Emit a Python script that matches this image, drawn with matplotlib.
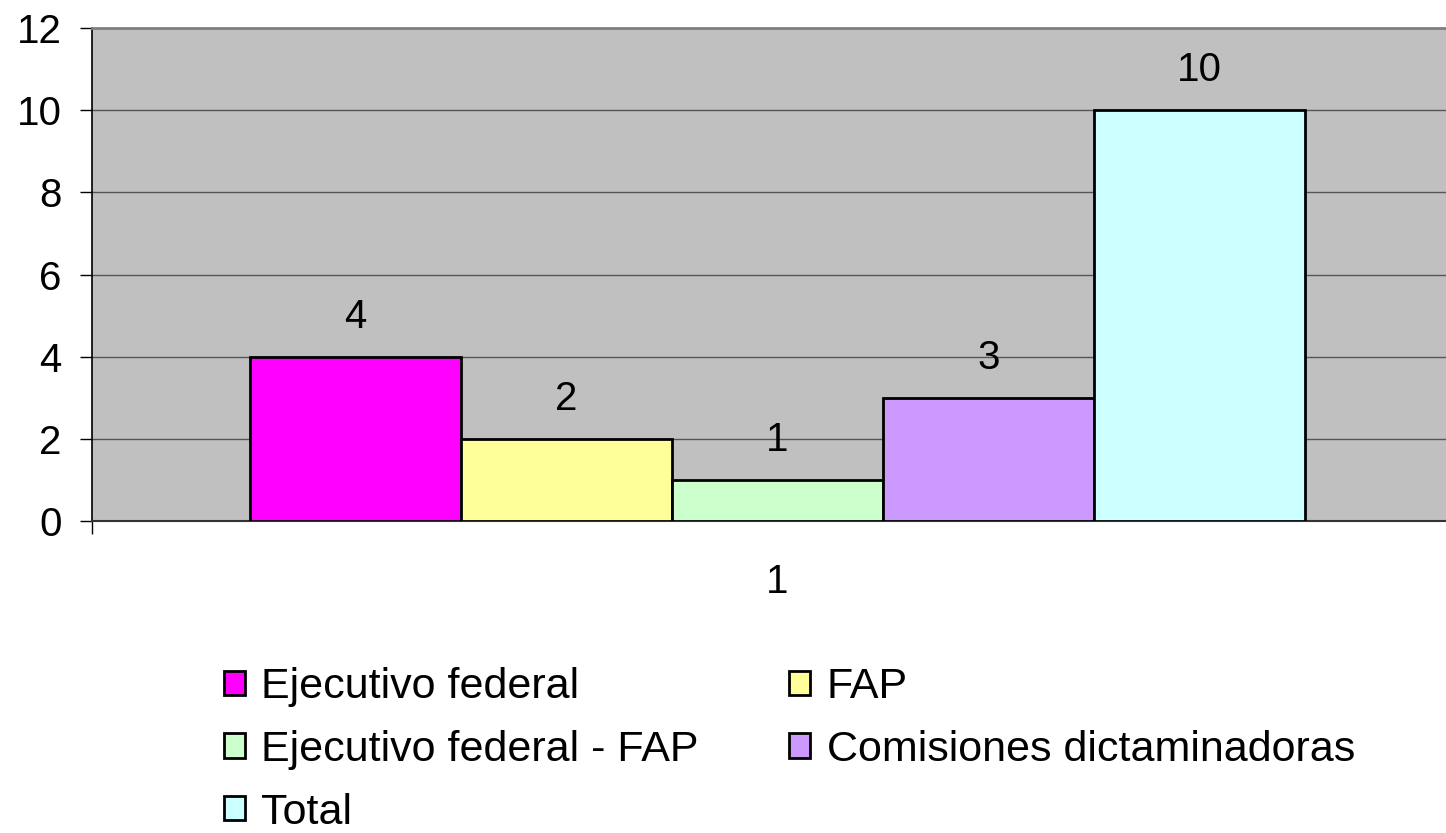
import matplotlib.pyplot as plt
from matplotlib.ticker import FixedLocator

# Data
series = ['Ejecutivo federal', 'FAP', 'Ejecutivo federal - FAP',
          'Comisiones dictaminadoras', 'Total']
values = [4, 2, 1, 3, 10]
colors = ['#FF00FF', '#FFFF99', '#CCFFCC', '#CC99FF', '#CCFFFF']
category = 1

plt.rcParams['font.family'] = ['Liberation Sans', 'DejaVu Sans']
fs = 29
fs_leg = 31

fig = plt.figure(figsize=(14.46, 8.33), dpi=100)
# plot area runs past the right edge of the picture, as in the source
ax = fig.add_axes([92 / 1446, 1 - 521 / 833, 1371 / 1446, 493 / 833])
ax.set_facecolor('#C0C0C0')

# Excel-style clustered bars: gap width 150%
w = 1 / 6.5
bars = []
for i, (name, v, c) in enumerate(zip(series, values, colors)):
    x = category + (i - 2) * w
    b = ax.bar(x, v, width=w, color=c, edgecolor='black', linewidth=2.0,
               label=name, zorder=3)
    bars.append(b)
    ax.annotate(str(v), (x, v), xytext=(0, 21), textcoords='offset points',
                ha='center', va='baseline', fontsize=fs, zorder=4)

ax.set_xlim(0.5, 1.5)
ax.set_ylim(0, 12)
ax.set_yticks(range(0, 13, 2))
ax.yaxis.grid(True, color='#555555', linewidth=1.0, zorder=1)
ax.set_axisbelow(True)

ax.set_xticks([category])
ax.set_xticklabels([str(category)])
ax.xaxis.set_minor_locator(FixedLocator([0.5]))
ax.tick_params(axis='x', which='major', length=0, pad=30, labelsize=fs)
ax.tick_params(axis='x', which='minor', length=9, width=1.0, direction='out')
ax.tick_params(axis='y', length=9, width=1.0, pad=13, labelsize=fs)

ax.spines['left'].set_color('black')
ax.spines['left'].set_linewidth(1.2)
ax.spines['bottom'].set_color('#333333')
ax.spines['bottom'].set_linewidth(1.5)
ax.spines['top'].set_color('#808080')
ax.spines['top'].set_linewidth(2)
ax.spines['right'].set_visible(False)

# legend in row order: two columns
order = [0, 2, 4, 1, 3]
handles = [bars[i] for i in order]
labels = [series[i] for i in order]
fig.legend(handles, labels, ncol=2, loc='upper left',
           bbox_to_anchor=(224 / 1446, 1 - 667 / 833), frameon=False,
           fontsize=fs_leg, handlelength=0.49, handleheight=0.49,
           handletextpad=0.38, columnspacing=2.1, labelspacing=0.53,
           borderpad=0, borderaxespad=0)

fig.savefig('out.png', dpi=100)
